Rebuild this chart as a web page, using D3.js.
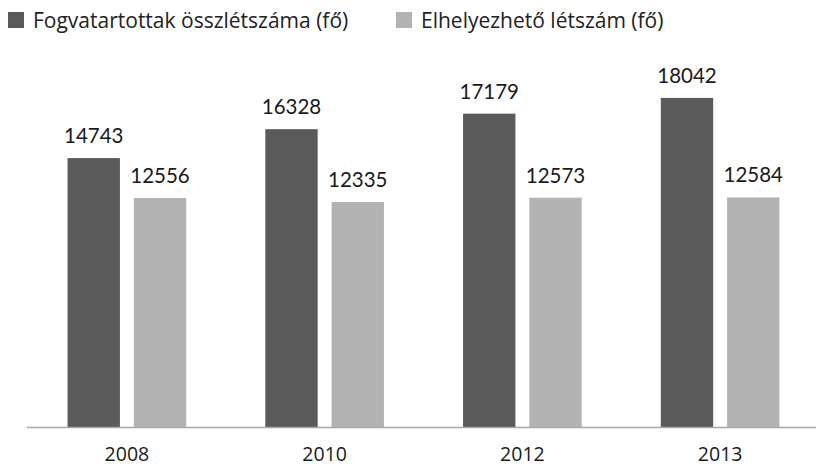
<!DOCTYPE html>
<html>
<head>
<meta charset="utf-8">
<script src="https://cdn.jsdelivr.net/npm/d3@7"></script>
<style>
  body { margin: 0; background: #fff; }
  svg { display: block; }
</style>
</head>
<body>
<script>
// data
var years = ["2008", "2010", "2012", "2013"];
var inmates = [14743, 16328, 17179, 18042];   // Fogvatartottak összlétszáma
var capacity = [12556, 12335, 12573, 12584];  // Elhelyezhető létszám
var seriesNames = ["Fogvatartottak összlétszáma (fő)", "Elhelyezhető létszám (fő)"];
var seriesColors = ["#5a5a5a", "#b3b3b3"];

var width = 816,
    height = 467,
    baseY = 427;

var svg = d3.select("body").append("svg")
    .attr("width", width)
    .attr("height", height);

var x = d3.scaleBand()
    .domain(years)
    .range([28, 819])
    .paddingInner(0.4)
    .paddingOuter(0.2);

var xSub = d3.scaleBand()
    .domain([0, 1])
    .range([0, x.bandwidth()])
    .paddingInner(0.21);

var y = d3.scaleLinear()
    .domain([0, 20000])
    .range([baseY, baseY - 364.8]);

var rows = years.map(function(yr, i) {
  return { year: yr, vals: [inmates[i], capacity[i]] };
});

var groups = svg.selectAll("g.year")
    .data(rows)
    .enter()
    .append("g")
    .attr("class", "year")
    .attr("transform", function(d) { return "translate(" + x(d.year) + ",0)"; });

groups.selectAll("rect")
    .data(function(d) { return d.vals; })
    .enter()
    .append("rect")
    .attr("x", function(d, i) { return xSub(i); })
    .attr("width", xSub.bandwidth())
    .attr("y", function(d) { return y(d); })
    .attr("height", function(d) { return baseY - y(d); })
    .attr("fill", function(d, i) { return seriesColors[i]; });

groups.selectAll("text.val")
    .data(function(d) { return d.vals; })
    .enter()
    .append("text")
    .attr("class", "val")
    .attr("x", function(d, i) { return xSub(i) + xSub.bandwidth() / 2; })
    .attr("y", function(d) { return y(d) - 15; })
    .attr("text-anchor", "middle")
    .style("font-family", "Lato, 'Liberation Sans', sans-serif")
    .style("font-size", "20.5px")
    .style("fill", "#1a1a1a")
    .text(function(d) { return d; });

// baseline
svg.append("line")
    .attr("x1", 27).attr("x2", 816)
    .attr("y1", baseY + 0.5).attr("y2", baseY + 0.5)
    .style("stroke", "#a8a8a8")
    .style("stroke-width", 1.5);

// year labels
var xAxis = d3.axisBottom(x).tickSize(0).tickPadding(0);
var axisG = svg.append("g")
    .attr("transform", "translate(0," + (baseY + 34) + ")")
    .call(xAxis);
axisG.select(".domain").remove();
axisG.selectAll("text")
    .attr("dy", "0")
    .style("font-family", "'Open Sans', sans-serif")
    .style("font-size", "19.5px")
    .style("fill", "#1a1a1a");

// legend
var legendX = [8, 396];
var legend = svg.selectAll("g.legend")
    .data(seriesNames)
    .enter()
    .append("g")
    .attr("class", "legend")
    .attr("transform", function(d, i) { return "translate(" + legendX[i] + ",12)"; });

legend.append("rect")
    .attr("width", 16)
    .attr("height", 16)
    .attr("fill", function(d, i) { return seriesColors[i]; });

legend.append("text")
    .attr("x", 25)
    .attr("y", 16)
    .style("font-family", "'Open Sans', sans-serif")
    .style("font-size", "21px")
    .style("fill", "#222")
    .text(function(d) { return d; });
</script>
</body>
</html>
